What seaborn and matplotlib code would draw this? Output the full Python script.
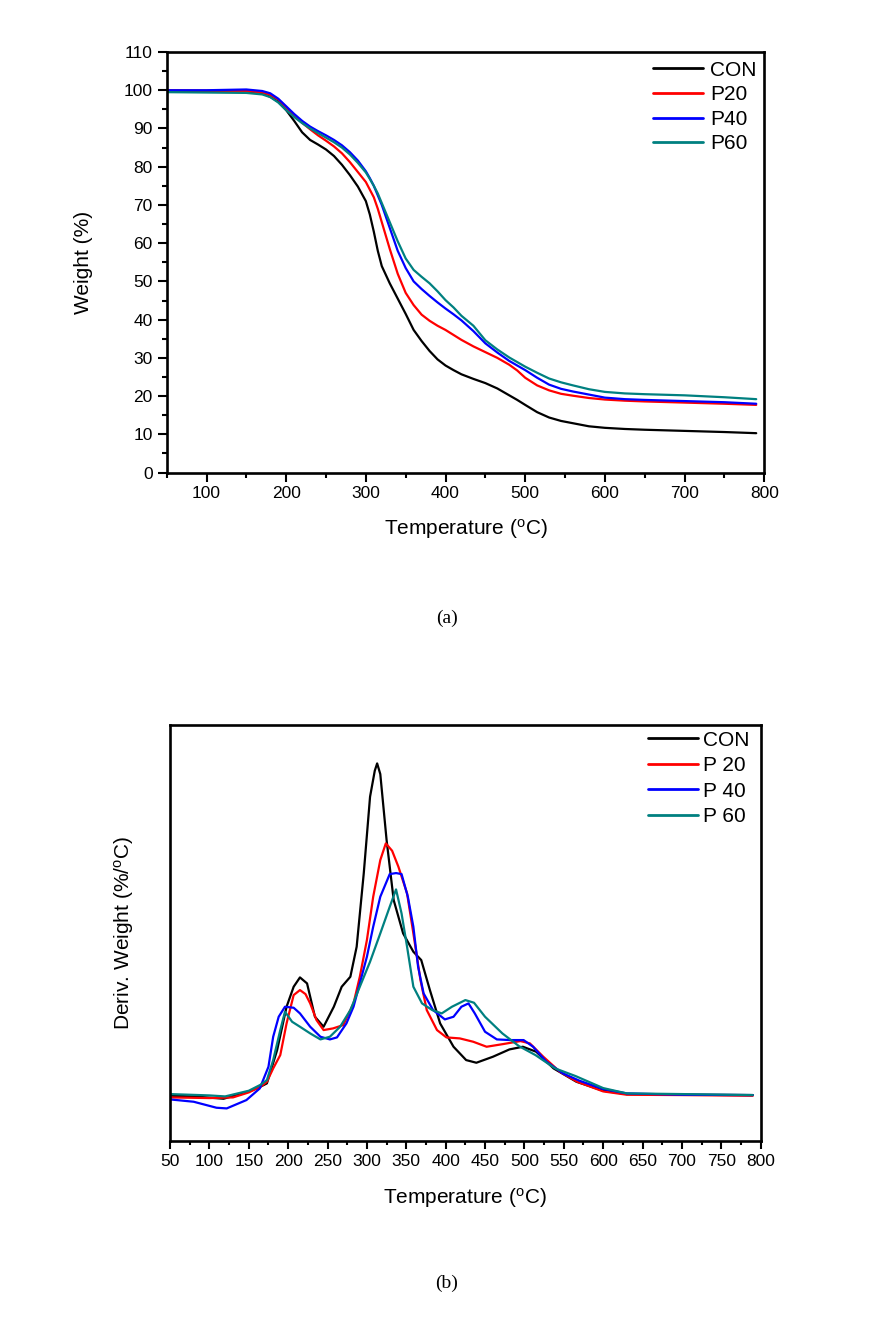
import numpy as np
import pandas as pd
import matplotlib
matplotlib.use("Agg")
import matplotlib.pyplot as plt
from matplotlib.ticker import MultipleLocator
import seaborn as sns

# ---------------- data: TGA (a) ----------------
tga_T = [50, 100, 150, 170, 180, 190, 200, 210, 220, 230, 240, 250, 260, 270, 280,
         290, 300, 305, 310, 315, 320, 330, 340, 350, 360, 370, 380, 390, 400, 410,
         420, 435, 450, 465, 480, 490, 500, 515, 530, 545, 560, 580, 600, 625, 650,
         700, 750, 790]
tga_con = [99.7, 99.7, 99.6, 99.2, 98.3, 97.0, 94.8, 92.0, 89.0, 87.0, 85.8, 84.5, 82.8, 80.5, 77.8,
           74.8, 71.0, 67.5, 63.0, 58.0, 54.0, 49.5, 45.5, 41.5, 37.3, 34.4, 31.8, 29.6, 28.0, 26.8,
           25.7, 24.5, 23.4, 22.0, 20.2, 19.0, 17.7, 15.8, 14.4, 13.5, 12.9, 12.1, 11.7, 11.4, 11.2,
           10.9, 10.6, 10.3]
tga_p20 = [100.0, 99.9, 99.8, 99.4, 98.8, 97.6, 95.6, 93.3, 91.5, 89.8, 88.2, 86.8, 85.3, 83.5, 81.2,
           78.6, 76.0, 74.0, 72.0, 69.0, 65.5, 58.5, 52.0, 47.0, 43.8, 41.3, 39.7, 38.4, 37.3, 36.0,
           34.7, 33.0, 31.5, 30.0, 28.2, 26.7, 24.8, 22.8, 21.5, 20.6, 20.1, 19.5, 19.1, 18.8, 18.6,
           18.3, 18.0, 17.7]
tga_p40 = [100.0, 100.0, 100.2, 99.8, 99.2, 97.8, 95.8, 93.8, 92.0, 90.5, 89.3, 88.2, 87.0, 85.6, 83.8,
           81.6, 78.8, 77.0, 75.0, 72.5, 70.0, 64.0, 58.0, 53.5, 50.0, 48.0, 46.2, 44.5, 42.9, 41.4,
           39.8, 37.0, 33.8, 31.4, 29.2, 28.0, 26.8, 24.8, 23.0, 21.9, 21.2, 20.4, 19.6, 19.2, 19.0,
           18.7, 18.4, 18.0]
tga_p60 = [99.5, 99.4, 99.3, 98.9, 98.2, 96.8, 94.8, 93.0, 91.4, 90.0, 88.8, 87.6, 86.4, 85.0, 83.2,
           81.0, 78.5, 76.8, 75.0, 73.0, 70.5, 65.5, 60.5, 56.0, 53.0, 51.2, 49.5, 47.4, 45.1, 43.2,
           41.0, 38.4, 34.6, 32.2, 30.1, 28.9, 27.7, 26.1, 24.6, 23.6, 22.8, 21.8, 21.1, 20.7, 20.5,
           20.2, 19.7, 19.2]
tga_labels = ["CON", "P20", "P40", "P60"]

# ---------------- data: DTG (b), arbitrary units ----------------
dtg_con_T = [50, 80, 118, 150, 163, 173, 186, 198, 207, 215, 224, 234, 245, 258, 268, 279, 287, 296,
             304, 310, 313, 317, 325, 334, 346, 359, 369, 380, 393, 410, 426, 439, 460, 481, 498,
             515, 537, 566, 600, 630, 700, 790]
dtg_con = [13.5, 13.3, 12.6, 14.8, 16.0, 17.2, 27.2, 40.2, 46.2, 49.0, 47.2, 37.2, 34.2, 40.2, 46.2,
           49.2, 58.2, 80.2, 103.2, 111.0, 113.2, 110.0, 90.2, 72.2, 62.2, 56.7, 54.2, 45.2, 35.2, 28.2,
           24.2, 23.4, 25.2, 27.4, 28.2, 26.7, 21.7, 17.7, 15.0, 14.0, 13.8, 13.7]
dtg_p20_T = [50, 100, 130, 150, 165, 173, 181, 190, 198, 207, 215, 222, 228, 236, 245, 257, 270, 283,
             291, 300, 308, 317, 324, 332, 340, 351, 359, 368, 376, 389, 401, 418, 435, 452, 473,
             495, 507, 524, 545, 567, 600, 630, 700, 790]
dtg_p20 = [13.0, 12.8, 13.0, 14.5, 16.2, 17.7, 21.7, 25.7, 35.2, 43.7, 45.2, 44.0, 41.2, 36.2, 33.2,
           33.7, 34.7, 41.2, 49.2, 60.2, 73.2, 84.2, 89.2, 87.0, 82.2, 74.2, 62.2, 48.2, 39.2, 33.2,
           31.0, 30.7, 29.7, 28.2, 29.0, 29.9, 29.2, 25.2, 20.7, 17.7, 14.8, 13.8, 13.7, 13.5]
dtg_p40_T = [50, 80, 109, 122, 147, 164, 175, 181, 188, 196, 207, 215, 228, 241, 253, 262, 274, 283,
             291, 300, 308, 317, 329, 337, 344, 352, 359, 365, 372, 384, 399, 410, 420, 429, 437,
             450, 465, 482, 499, 511, 528, 549, 570, 600, 630, 700, 790]
dtg_p40 = [12.4, 11.7, 9.9, 9.7, 12.2, 15.7, 22.2, 31.2, 37.2, 40.2, 39.9, 38.2, 34.2, 31.2, 30.4,
           31.0, 35.2, 40.2, 47.2, 55.2, 64.2, 73.2, 80.0, 80.3, 80.0, 73.2, 64.2, 52.2, 44.2, 39.2,
           36.4, 37.2, 40.2, 41.2, 38.2, 32.7, 30.4, 30.2, 30.2, 28.2, 23.7, 20.2, 18.0, 15.5, 14.2,
           13.8, 13.7]
dtg_p60_T = [50, 100, 120, 150, 165, 173, 181, 190, 196, 205, 215, 228, 241, 253, 266, 279, 291, 304,
             317, 329, 337, 344, 351, 359, 370, 383, 395, 408, 425, 436, 450, 472, 493, 514, 539,
             565, 600, 630, 700, 790]
dtg_p60 = [14.0, 13.6, 13.3, 15.0, 16.8, 18.2, 24.2, 33.2, 38.7, 35.7, 34.2, 32.2, 30.4, 31.2, 34.2,
           39.2, 46.2, 53.7, 62.2, 70.2, 75.4, 68.2, 58.2, 46.2, 41.2, 39.2, 38.2, 40.2, 42.2, 41.4,
           37.2, 32.2, 28.4, 25.7, 21.7, 19.4, 15.8, 14.2, 14.0, 13.7]
dtg_labels = ["CON", "P 20", "P 40", "P 60"]

colors = ["#000000", "#FF0000", "#0000FF", "#008080"]

# ---------------- long-form tables ----------------
tga_df = pd.concat([
    pd.DataFrame({"Temperature": tga_T, "Value": v, "Sample": lab})
    for v, lab in zip([tga_con, tga_p20, tga_p40, tga_p60], tga_labels)
], ignore_index=True)
dtg_df = pd.concat([
    pd.DataFrame({"Temperature": t, "Value": v, "Sample": lab})
    for t, v, lab in zip([dtg_con_T, dtg_p20_T, dtg_p40_T, dtg_p60_T],
                         [dtg_con, dtg_p20, dtg_p40, dtg_p60], dtg_labels)
], ignore_index=True)

# ---------------- style ----------------
sns.set_style("ticks")
plt.rcParams["font.family"] = ["Liberation Sans", "DejaVu Sans"]
plt.rcParams["mathtext.fontset"] = "custom"
plt.rcParams["mathtext.rm"] = "Liberation Sans"
plt.rcParams["mathtext.default"] = "regular"
for key in ["text.color", "axes.labelcolor", "xtick.color", "ytick.color", "axes.edgecolor"]:
    plt.rcParams[key] = "black"

fig = plt.figure(figsize=(8.8, 13.2), dpi=100)
ax1 = fig.add_axes([0.1894, 0.642, 0.679, 0.3186])
ax2 = fig.add_axes([0.1932, 0.1358, 0.6712, 0.3149])

sns.lineplot(data=tga_df, x="Temperature", y="Value", hue="Sample", hue_order=tga_labels,
             palette=colors, estimator=None, sort=False, linewidth=1.6, ax=ax1)
sns.lineplot(data=dtg_df, x="Temperature", y="Value", hue="Sample", hue_order=dtg_labels,
             palette=colors, estimator=None, sort=False, linewidth=1.6, ax=ax2)

for ax in (ax1, ax2):
    for sp in ax.spines.values():
        sp.set_visible(True)
        sp.set_linewidth(1.9)
        sp.set_color("black")
    ax.set_xlim(50, 800)

# top chart axes
ax1.set_ylim(0, 110)
ax1.xaxis.set_major_locator(MultipleLocator(100))
ax1.xaxis.set_minor_locator(MultipleLocator(50))
ax1.yaxis.set_major_locator(MultipleLocator(10))
ax1.yaxis.set_minor_locator(MultipleLocator(5))
ax1.tick_params(which="major", direction="out", length=6.5, width=1.5, labelsize=12.5,
                pad=3.5, colors="black", top=False, right=False)
ax1.tick_params(which="minor", direction="out", length=3.5, width=1.5,
                top=False, right=False)
ax1.set_xlabel("Temperature ($^{o}$C)", fontsize=15)
ax1.set_ylabel("Weight (%)", fontsize=15)
ax1.yaxis.set_label_coords(-0.123, 0.5)
ax1.xaxis.set_label_coords(0.5, -0.106)

# bottom chart axes
ax2.set_ylim(0, 124.7)
ax2.set_yticks([])
ax2.xaxis.set_major_locator(MultipleLocator(50))
ax2.xaxis.set_minor_locator(MultipleLocator(25))
ax2.tick_params(axis="x", which="major", direction="out", length=5.5, width=1.5,
                labelsize=12.5, pad=4, top=False, colors="black")
ax2.tick_params(axis="x", which="minor", direction="out", length=3, width=1.5, top=False)
ax2.set_xlabel("Temperature ($^{o}$C)", fontsize=15)
ax2.set_ylabel("Deriv. Weight (%/$^{o}$C)", fontsize=15)
ax2.yaxis.set_label_coords(-0.057, 0.5)
ax2.xaxis.set_label_coords(0.5, -0.108)

# legends
h1, l1 = ax1.get_legend_handles_labels()
ax1.legend(h1, l1, loc="upper left", bbox_to_anchor=(0.8138, 0.9796), frameon=False,
           fontsize=15, handlelength=2.4, handletextpad=0.33, labelspacing=0.27,
           borderpad=0, borderaxespad=0)
h2, l2 = ax2.get_legend_handles_labels()
ax2.legend(h2, l2, loc="upper left", bbox_to_anchor=(0.809, 0.9865), frameon=False,
           fontsize=15, handlelength=2.4, handletextpad=0.25, labelspacing=0.31,
           borderpad=0, borderaxespad=0)
for leg in (ax1.get_legend(), ax2.get_legend()):
    for ln in leg.get_lines():
        ln.set_linewidth(2.0)

fig.text(447 / 880, 1 - 618 / 1320, "(a)", ha="center", va="center",
         family=["Liberation Serif", "DejaVu Serif"], fontsize=14)
fig.text(447 / 880, 1 - 1283 / 1320, "(b)", ha="center", va="center",
         family=["Liberation Serif", "DejaVu Serif"], fontsize=14)

fig.savefig("out.png", dpi=100)
